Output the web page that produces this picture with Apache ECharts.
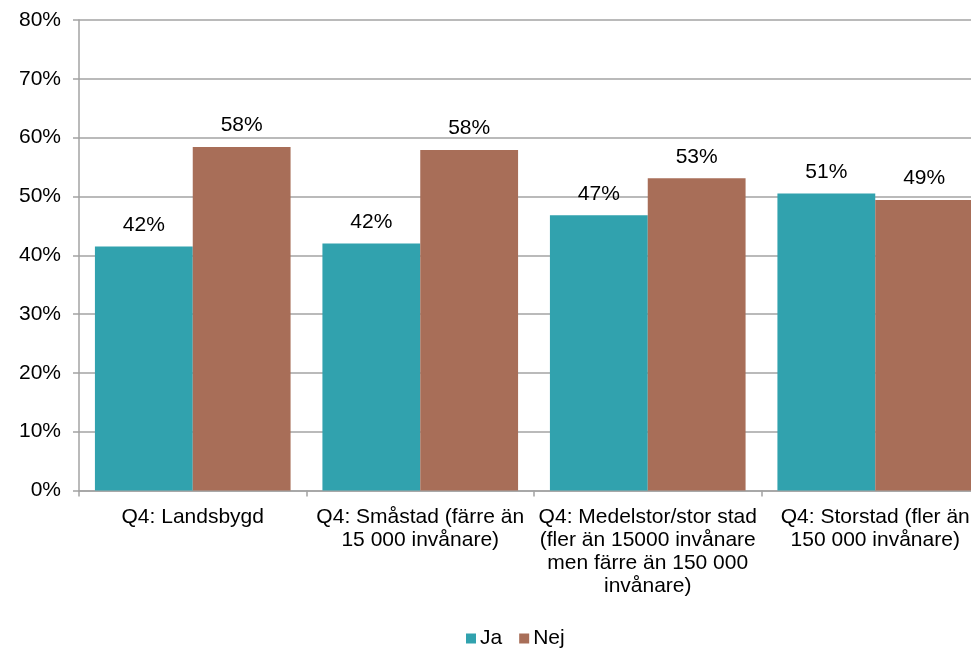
<!DOCTYPE html>
<html>
<head>
<meta charset="utf-8">
<script src="https://cdn.jsdelivr.net/npm/echarts@6/dist/echarts.min.js"></script>
<style>
    html, body { margin: 0; padding: 0; background: #fff; overflow: hidden; }
    #main { width: 989px; height: 649px; }
</style>
</head>
<body>
<div id="main"></div>
<script>
var categories = [
    "Q4: Landsbygd",
    "Q4: Småstad (färre än\n15 000 invånare)",
    "Q4: Medelstor/stor stad\n(fler än 15000 invånare\nmen färre än 150 000\ninvånare)",
    "Q4: Storstad (fler än\n150 000 invånare)"
];
var jaValues = [41.5, 42.0, 46.8, 50.5];
var nejValues = [58.4, 57.9, 53.1, 49.4];
var seriesNames = ["Ja", "Nej"];

var font = "'Liberation Sans', Arial, sans-serif";
var gridColor = "#a3a3a3";

var chart = {
    init() {
        // the plot runs past the right edge of the 971px picture, so the div is wider
        var myChart = echarts.init(document.getElementById("main"));
        var barLabel = {
            show: true,
            position: 'top',
            distance: 11,
            color: '#000',
            fontSize: 21,
            fontFamily: font,
            formatter: function (p) {
                return Math.round(p.value) + '%';
            }
        };
        var option = {
            animation: false,
            textStyle: { fontFamily: font },
            grid: {
                left: 79,
                right: 0,
                top: 20,
                bottom: 158.5
            },
            legend: {
                data: seriesNames,
                top: 623,
                left: 461,
                itemWidth: 10,
                itemHeight: 10,
                itemGap: 17,
                icon: 'rect',
                textStyle: {
                    color: '#000',
                    fontSize: 21,
                    fontFamily: font,
                    padding: [0, 0, 0, -1]
                }
            },
            xAxis: {
                type: 'category',
                data: categories,
                axisLine: { lineStyle: { color: gridColor, width: 1.5 } },
                axisTick: { show: true, length: 6, lineStyle: { color: gridColor, width: 1.5 } },
                axisLabel: {
                    interval: 0,
                    color: '#000',
                    fontSize: 21,
                    lineHeight: 23,
                    margin: 15,
                    fontFamily: font
                }
            },
            yAxis: {
                type: 'value',
                min: 0,
                max: 80,
                interval: 10,
                axisLine: { show: true, lineStyle: { color: gridColor, width: 1.5 } },
                axisTick: { show: true, length: 6, lineStyle: { color: gridColor, width: 1.5 } },
                splitLine: { lineStyle: { color: gridColor, width: 1.5 } },
                axisLabel: {
                    formatter: '{value}%',
                    color: '#000',
                    fontSize: 21,
                    margin: 18,
                    fontFamily: font
                }
            },
            series: [
                {
                    name: seriesNames[0],
                    type: 'bar',
                    data: jaValues,
                    barWidth: '43%',
                    barGap: '0%',
                    itemStyle: { color: '#31a2ae' },
                    label: barLabel
                },
                {
                    name: seriesNames[1],
                    type: 'bar',
                    data: nejValues,
                    barWidth: '43%',
                    barGap: '0%',
                    itemStyle: { color: '#a86e58' },
                    label: barLabel
                }
            ]
        };
        myChart.setOption(option);
    }
};

chart.init();
</script>
</body>
</html>
